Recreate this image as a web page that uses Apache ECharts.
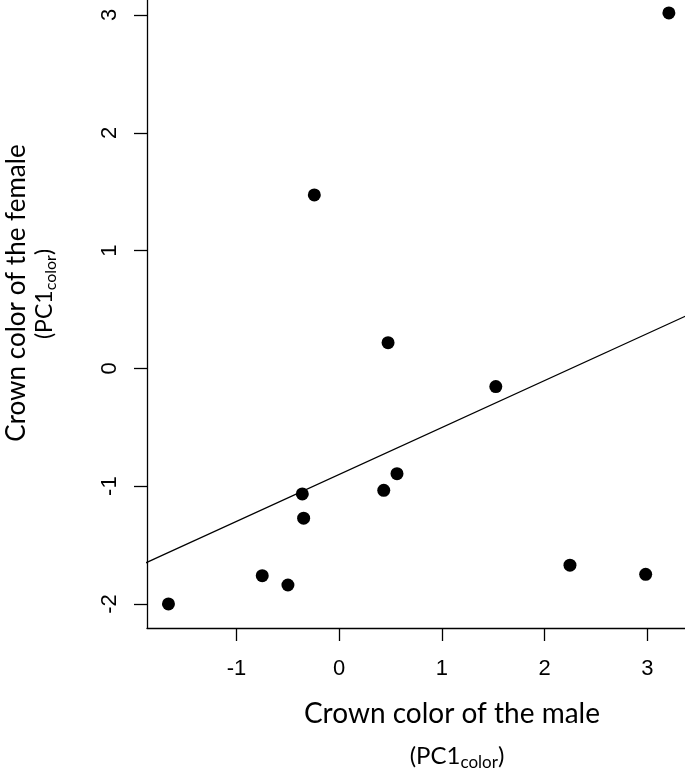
<!DOCTYPE html>
<html>
<head>
<meta charset="utf-8">
<script src="https://cdn.jsdelivr.net/npm/echarts@6/dist/echarts.min.js"></script>
<style>
html,body{margin:0;padding:0;background:#fff;}
#chart{width:685px;height:769px;}
</style>
</head>
<body>
<div id="chart"></div>
<script>
// Crown colour (PC1) of male (x) vs female (y)
const maleX   = [3.21, -0.242, 0.476, 1.525, -0.359, -0.346, 0.434, 0.563, -0.749, -0.499, -1.662, 2.247, 2.984];
const femaleY = [3.017, 1.472, 0.218, -0.155, -1.066, -1.272, -1.035, -0.894, -1.760, -1.839, -2.0, -1.671, -1.748];
// fitted regression line, endpoints
const fitX = [-1.9, 3.4];
const fitY = [-1.658, 0.454];
const xTicks = [-1, 0, 1, 2, 3];
const yTicks = [-2, -1, 0, 1, 2, 3];
const xTitle = 'Crown color of the male';
const yTitle = 'Crown color of the female';
const subMain = '(PC1';
const subSmall = 'color';
const subEnd = ')';

const chart = echarts.init(document.getElementById('chart'), null, {renderer:'canvas'});
const titleFont = "Lato, 'Open Sans', sans-serif";
const tickFont = "'Liberation Sans', Arial, sans-serif";
function richSub(big, small, drop){
  return {
    a:{fontFamily:titleFont,fontSize:big,color:'#000',lineHeight:big+4,verticalAlign:'top'},
    b:{fontFamily:titleFont,fontSize:small,color:'#000',lineHeight:big+4,verticalAlign:'top',padding:[drop,0,0,0]}
  };
}
const subText = '{a|'+subMain+'}{b|'+subSmall+'}{a|'+subEnd+'}';

chart.setOption({
  animation:false,
  backgroundColor:'#fff',
  grid:{left:147,right:0,top:0,bottom:141,containLabel:false},
  xAxis:{
    type:'value', min:-1.871, max:3.367, interval:1,
    splitLine:{show:false},
    axisLine:{show:true,onZero:false,lineStyle:{color:'#000',width:1.3}},
    axisTick:{show:true,length:13,lineStyle:{color:'#000',width:1.3},customValues:xTicks},
    axisLabel:{fontFamily:tickFont,fontSize:22,color:'#000',margin:30,customValues:xTicks,
      formatter:v=>String(v)}
  },
  yAxis:{
    type:'value', min:-2.204, max:3.127,
    splitLine:{show:false},
    axisLine:{show:true,onZero:false,lineStyle:{color:'#000',width:1.3}},
    axisTick:{show:true,length:13,lineStyle:{color:'#000',width:1.3},customValues:yTicks},
    axisLabel:{fontFamily:tickFont,fontSize:22,color:'#000',margin:26,rotate:90,customValues:yTicks,
      formatter:v=>String(v)}
  },
  series:[
    {type:'line', data:fitX.map((x,i)=>[x,fitY[i]]), showSymbol:false, clip:true,
      lineStyle:{color:'#000',width:1.2}, silent:true},
    {type:'scatter', data:maleX.map((x,i)=>[x,femaleY[i]]), symbol:'circle', symbolSize:13,
      itemStyle:{color:'#000',opacity:1}, clip:false}
  ],
  graphic:[
    {type:'text', x:452, y:714, style:{text:xTitle, fontFamily:titleFont, fontSize:28, fill:'#000', align:'center', verticalAlign:'middle'}},
    {type:'text', x:457, y:744, style:{text:subText, rich:richSub(24,17,10), align:'center', verticalAlign:'top'}},
    {type:'text', x:17, y:293, rotation:Math.PI/2, style:{text:yTitle, fontFamily:titleFont, fontSize:26, fill:'#000', align:'center', verticalAlign:'middle'}},
    {type:'text', x:33, y:294, rotation:Math.PI/2, style:{text:subText, rich:richSub(23,16,10), align:'center', verticalAlign:'top'}}
  ]
});
</script>
</body>
</html>
